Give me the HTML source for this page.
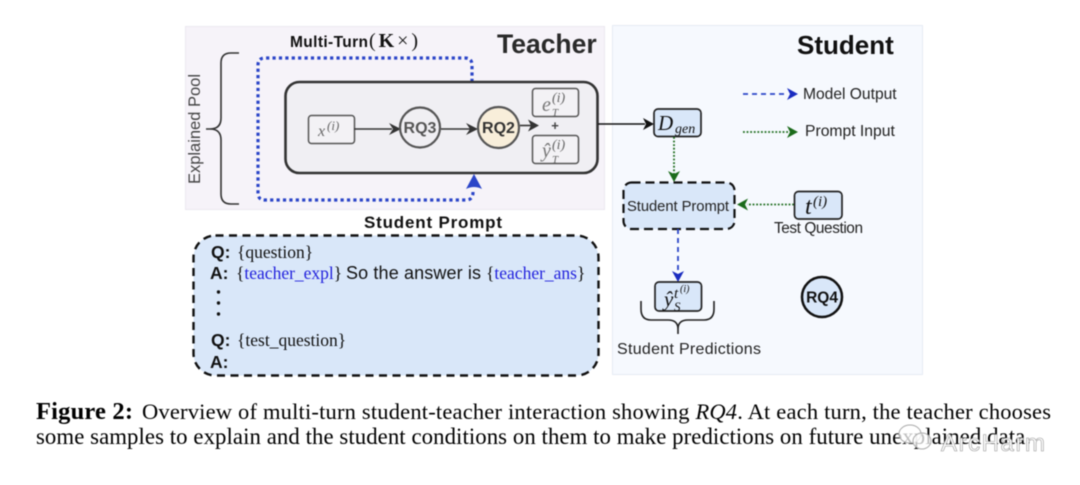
<!DOCTYPE html>
<html><head><meta charset="utf-8"><style>
html,body{margin:0;padding:0;background:#fff;width:1080px;height:485px;overflow:hidden}
svg{display:block;filter:blur(.42px)}
text{font-family:"Liberation Sans",sans-serif;fill:#111}
.s{font-family:"Liberation Serif",serif}
.m{font-family:"Liberation Serif",serif;font-style:italic}
</style></head><body>
<svg width="1080" height="485" viewBox="0 0 1080 485" xmlns="http://www.w3.org/2000/svg">
<rect width="1080" height="485" fill="#fff"/>
<!-- panels -->
<rect x="185.500" y="26.500" width="419" height="183" fill="#f6f3f9" stroke="#ebe8f0"/>
<rect x="612.500" y="25.500" width="310" height="349" fill="#f6f9fe" stroke="#e6ebf4"/>
<text x="497" y="53" font-size="26.500" font-weight="700" style="fill:#2a2a2a">Teacher</text>
<text x="797" y="54" font-size="26" font-weight="700">Student</text>
<text x="290" y="47" font-size="15.500" font-weight="700" textLength="78">Multi-Turn</text>
<text x="369" y="47" font-size="20" class="s" textLength="49">(<tspan font-weight="700">K</tspan>×)</text>
<!-- explained pool -->
<text transform="translate(200,184) rotate(-90)" font-size="16.500" style="fill:#444" textLength="110">Explained Pool</text>
<path d="M239 53H231Q221 53 221 63V118Q221 129 210 129H206M210 129Q221 129 221 140V194Q221 204 231 204H239" fill="none" stroke="#333" stroke-width="1.600"/>
<!-- dotted loop -->
<path d="M472 82V65Q472 58 465 58H265Q258 58 258 65V193Q258 200 265 200H466Q473 200 473 192" fill="none" stroke="#2b45c8" stroke-width="3.200" stroke-dasharray="3.200 3.200"/>
<!-- inner box -->
<rect x="285.500" y="82" width="312" height="91" rx="14" fill="#f0eff3" stroke="#333" stroke-width="2.600"/>
<path d="M466 189L474 174L482 189Q474 185 466 189Z" fill="#2b45c8"/>
<rect x="308.500" y="115.500" width="46" height="28" rx="3" fill="#f3f2f5" stroke="#555" stroke-width="1.500"/>
<text x="318" y="136" class="m" font-size="16" style="fill:#666">x</text>
<text x="327" y="130" class="m" font-size="13" style="fill:#666">(i)</text>
<path d="M354 129H392" stroke="#333" stroke-width="1.600"/><path d="M401 129L389 123L393 129L389 135Z" fill="#333"/>
<circle cx="420" cy="127.500" r="20" fill="#f0eff3" stroke="#555" stroke-width="2.200"/>
<text x="420" y="133" text-anchor="middle" font-size="16" font-weight="700" style="fill:#555">RQ3</text>
<path d="M441 129H470" stroke="#333" stroke-width="1.600"/><path d="M478 129L466 123L470 129L466 135Z" fill="#333"/>
<circle cx="498.500" cy="127.500" r="20.500" fill="#f8eeda" stroke="#555" stroke-width="2.200"/>
<text x="498.500" y="133" text-anchor="middle" font-size="16" font-weight="700" style="fill:#333">RQ2</text>
<path d="M520 125.500H531" stroke="#333" stroke-width="1.600"/><path d="M539 125.500L528 119.500L531 125.500L528 131.500Z" fill="#333"/>
<rect x="532.500" y="88.500" width="46" height="28" rx="3" fill="#f3f2f5" stroke="#555" stroke-width="1.500"/>
<text x="542" y="111" class="m" font-size="20" style="fill:#777">e</text>
<text x="552" y="102" class="m" font-size="14" style="fill:#666">(i)</text>
<text x="552" y="116" class="m" font-size="11" style="fill:#666">T</text>
<text x="555" y="130" text-anchor="middle" font-size="13" font-weight="700" style="fill:#444">+</text>
<rect x="532.500" y="135.500" width="46" height="28" rx="3" fill="#f3f2f5" stroke="#555" stroke-width="1.500"/>
<text x="542" y="157" class="m" font-size="20" style="fill:#777">ŷ</text>
<text x="552" y="149" class="m" font-size="14" style="fill:#666">(i)</text>
<text x="552" y="163" class="m" font-size="11" style="fill:#666">T</text>
<!-- output arrow -->
<path d="M598 124H645" stroke="#111" stroke-width="1.600"/><path d="M654 124L643 118L646 124L643 130Z" fill="#111"/>
<rect x="654" y="109" width="47" height="27.500" rx="4" fill="#d9e7f9" stroke="#222" stroke-width="1.700"/>
<text x="658" y="130" class="m" font-size="21">D</text>
<text x="675" y="133" class="m" font-size="14">gen</text>
<!-- legend -->
<path d="M743 94H786" stroke="#2b45c8" stroke-width="1.800" stroke-dasharray="5 4"/><path d="M798 94L787 88L790 94L787 100Z" fill="#1a2cc0"/>
<text x="803" y="99" font-size="15.600" style="fill:#222">Model Output</text>
<path d="M743 132H788" stroke="#1b6b1b" stroke-width="1.800" stroke-dasharray="1.800 1.800"/><path d="M798 132L787 126L790 132L787 138Z" fill="#1b6b1b"/>
<text x="805" y="136" font-size="15.700" style="fill:#222">Prompt Input</text>
<!-- d to prompt -->
<path d="M674 137V174" stroke="#1b6b1b" stroke-width="1.800" stroke-dasharray="1.800 1.800"/><path d="M674 182L668 171L674 174L680 171Z" fill="#1b6b1b"/>
<!-- student prompt small -->
<rect x="623.500" y="182.500" width="111" height="46.500" rx="8" fill="#d9e7f9" stroke="#111" stroke-width="2.200" stroke-dasharray="9 5"/>
<text x="627" y="211" font-size="14.800" style="fill:#222" textLength="102">Student Prompt</text>
<path d="M794 204.500H747" stroke="#1b6b1b" stroke-width="1.800" stroke-dasharray="1.800 1.800"/><path d="M737 204.500L748 198.500L745 204.500L748 210.500Z" fill="#1b6b1b"/>
<rect x="794.500" y="191.500" width="47.500" height="27.500" rx="4" fill="#d9e7f9" stroke="#222" stroke-width="1.700"/>
<text x="805" y="214" class="m" font-size="24">t</text>
<text x="813" y="206" class="m" font-size="15">(i)</text>
<text x="774" y="233" font-size="15.400" style="fill:#222" textLength="89">Test Question</text>
<!-- to prediction -->
<path d="M678 229V272" stroke="#2b45c8" stroke-width="1.800" stroke-dasharray="5 4"/><path d="M678 282L672 271L678 274L684 271Z" fill="#1a2cc0"/>
<rect x="655" y="282" width="46.500" height="29" rx="4" fill="#d9e7f9" stroke="#222" stroke-width="1.700"/>
<text x="664" y="306" class="m" font-size="21">ŷ</text>
<text x="674" y="298" class="m" font-size="15">t</text>
<text x="680" y="292" class="m" font-size="10">(i)</text>
<text x="674" y="311" class="m" font-size="13">S</text>
<path d="M641 301V309Q641 320 651 320H668Q678 320 678 329V334M678 329Q678 320 688 320H704Q714 320 714 309V301" fill="none" stroke="#222" stroke-width="1.600"/>
<text x="617" y="354" font-size="16" style="fill:#222" textLength="144">Student Predictions</text>
<circle cx="822" cy="297" r="20" fill="#d9e7f9" stroke="#111" stroke-width="2.500"/>
<text x="822" y="302.500" text-anchor="middle" font-size="15.500" font-weight="700">RQ4</text>
<!-- student prompt big -->
<text x="364" y="228" font-size="17" font-weight="700" textLength="138">Student Prompt</text>
<rect x="193.500" y="235.500" width="405" height="140" rx="22" fill="#d9e7f9" stroke="#111" stroke-width="2.400" stroke-dasharray="8 5.500"/>
<text x="211" y="258" font-size="17.500" font-weight="700">Q:</text>
<text x="237" y="258" class="s" font-size="17.500">{question}</text>
<text x="210" y="279" font-size="17.500" font-weight="700">A:</text>
<text x="236" y="279" class="s" font-size="17.500">{<tspan style="fill:#2222dd">teacher_expl</tspan>}</text>
<text x="346" y="279" font-size="18" textLength="135">So the answer is</text>
<text x="486" y="279" class="s" font-size="17.500">{<tspan style="fill:#2222dd">teacher_ans</tspan>}</text>
<circle cx="218.500" cy="292" r="1.700" fill="#111"/><circle cx="218.500" cy="303" r="1.700" fill="#111"/><circle cx="218.500" cy="314" r="1.700" fill="#111"/>
<text x="211" y="346" font-size="17.500" font-weight="700">Q:</text>
<text x="237" y="346" class="s" font-size="17.500">{test_question}</text>
<text x="210" y="368" font-size="17.500" font-weight="700">A:</text>
<!-- caption -->
<text x="36" y="419" class="s" font-size="24.500" font-weight="700" textLength="97" style="fill:#000">Figure 2:</text>
<text x="142" y="419" class="s" font-size="22.500" textLength="909" lengthAdjust="spacing" style="fill:#000">Overview of multi-turn student-teacher interaction showing <tspan font-style="italic">RQ4</tspan>. At each turn, the teacher chooses</text>
<text x="36" y="444" class="s" font-size="22.800" textLength="995" lengthAdjust="spacing" style="fill:#000">some samples to explain and the student conditions on them to make predictions on future unexplained data.</text>
<!-- watermark -->
<g fill="#ffffff" fill-opacity=".75" stroke="#aaa" stroke-width="1">
<ellipse cx="910" cy="434" rx="11" ry="9"/><ellipse cx="922" cy="441" rx="9" ry="8"/>
</g>
<text x="941" y="451" font-size="24" stroke="#999" stroke-width=".6" style="fill:#fff" textLength="104">ArcHarm</text>
</svg>
</body></html>
